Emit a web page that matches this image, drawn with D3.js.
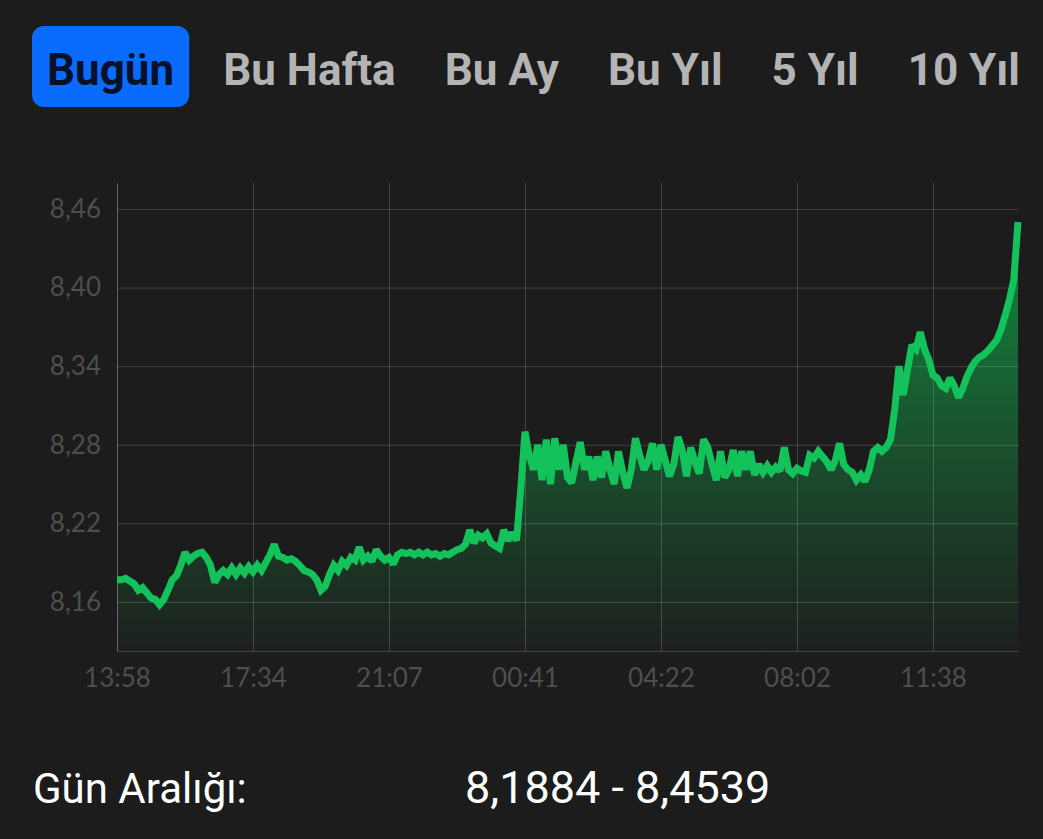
<!DOCTYPE html>
<html>
<head>
<meta charset="utf-8">
<script src="https://cdn.jsdelivr.net/npm/d3@7"></script>
<style>
  html, body { margin: 0; padding: 0; background: #1c1c1c; }
  #chart { width: 1043px; height: 839px; }
</style>
</head>
<body>
<div id="chart"></div>
<script>
// period tabs (first one is the active one)
const tabLabels = ["Bugün", "Bu Hafta", "Bu Ay", "Bu Yıl", "5 Yıl", "10 Yıl"];

// time labels on the x axis, one every 32 samples
const timeLabels = ["13:58", "17:34", "21:07", "00:41", "04:22", "08:02", "11:38"];
const timeTickIdx = [0, 32, 64, 96, 128, 160, 192];

// y axis ticks
const priceTicks = [8.16, 8.22, 8.28, 8.34, 8.40, 8.46];

// price samples (13:58 -> close)
const prices = [
  8.177, 8.177, 8.178, 8.176, 8.174, 8.169, 8.171, 8.167, 8.163, 8.162,
  8.158, 8.162, 8.169, 8.177, 8.180, 8.188, 8.198, 8.192, 8.195, 8.197,
  8.198, 8.194, 8.188, 8.175, 8.181, 8.184, 8.181, 8.186, 8.181, 8.186,
  8.182, 8.187, 8.183, 8.188, 8.184, 8.190, 8.196, 8.204, 8.195, 8.194,
  8.192, 8.193, 8.191, 8.188, 8.184, 8.183, 8.181, 8.177, 8.169, 8.172,
  8.181, 8.188, 8.184, 8.191, 8.188, 8.194, 8.192, 8.202, 8.192, 8.195,
  8.191, 8.200, 8.195, 8.192, 8.194, 8.189, 8.196, 8.198, 8.197, 8.198,
  8.196, 8.198, 8.196, 8.198, 8.196, 8.197, 8.195, 8.197, 8.196, 8.198,
  8.200, 8.201, 8.204, 8.215, 8.205, 8.211, 8.209, 8.212, 8.205, 8.203,
  8.201, 8.215, 8.207, 8.213, 8.207, 8.246, 8.290, 8.272, 8.261, 8.280,
  8.253, 8.284, 8.250, 8.285, 8.261, 8.280, 8.255, 8.251, 8.267, 8.282,
  8.261, 8.271, 8.253, 8.271, 8.255, 8.275, 8.261, 8.250, 8.275, 8.259,
  8.247, 8.261, 8.285, 8.272, 8.261, 8.268, 8.281, 8.261, 8.280, 8.268,
  8.256, 8.265, 8.286, 8.276, 8.256, 8.278, 8.267, 8.258, 8.284, 8.278,
  8.265, 8.253, 8.275, 8.255, 8.261, 8.276, 8.256, 8.275, 8.261, 8.275,
  8.257, 8.265, 8.259, 8.264, 8.259, 8.263, 8.260, 8.278, 8.261, 8.258,
  8.262, 8.260, 8.259, 8.272, 8.270, 8.275, 8.271, 8.267, 8.261, 8.268,
  8.281, 8.265, 8.261, 8.259, 8.253, 8.257, 8.252, 8.261, 8.275, 8.278,
  8.275, 8.278, 8.284, 8.307, 8.340, 8.318, 8.337, 8.356, 8.353, 8.366,
  8.353, 8.345, 8.333, 8.331, 8.325, 8.323, 8.331, 8.325, 8.316, 8.323,
  8.332, 8.339, 8.344, 8.347, 8.349, 8.352, 8.356, 8.360, 8.368, 8.379,
  8.391, 8.406, 8.450
];

const rangeLabel = "Gün Aralığı:";
const rangeValue = "8,1884 - 8,4539";

const W = 1043, H = 839;
const plot = { left: 117, right: 1019, top: 183, bottom: 651 };

const svg = d3.select('#chart').append('svg')
  .attr('width', W)
  .attr('height', H)
  .style('font-family', 'Roboto, sans-serif');

svg.append('rect').attr('width', W).attr('height', H).attr('fill', '#1c1c1c');

// ---- tabs ----
const tabY = 85;
const tabs = svg.append('g');
const tabTexts = tabs.selectAll('text')
  .data(tabLabels)
  .join('text')
    .attr('y', tabY)
    .attr('font-size', 44)
    .attr('font-weight', 700)
    .attr('fill', (d, i) => i === 0 ? '#07122a' : '#b4b4b4')
    .text(d => d);

const widths = [];
tabTexts.each(function() { widths.push(this.getComputedTextLength()); });
const startX = 47, endX = 1020;
const gap = (endX - startX - d3.sum(widths)) / (tabLabels.length - 1);
let cx = startX;
tabTexts.attr('x', (d, i) => { const x = cx; cx += widths[i] + gap; return x; });

tabs.insert('rect', 'text')
  .attr('x', startX - 15)
  .attr('y', 26)
  .attr('width', widths[0] + 30)
  .attr('height', 81)
  .attr('rx', 12)
  .attr('fill', '#0a6cff');

// ---- scales ----
const x = d3.scaleLinear().domain([0, prices.length - 1]).range([plot.left, plot.right - 1]);
const y = d3.scaleLinear().domain([8.1226, 8.4798]).range([plot.bottom, plot.top]);

const fmt = d3.formatLocale({ decimal: ",", thousands: ".", grouping: [3], currency: ["", "₺"] }).format(".2f");

// ---- area gradient ----
const defs = svg.append('defs');
const grad = defs.append('linearGradient')
  .attr('id', 'fillGrad')
  .attr('gradientUnits', 'userSpaceOnUse')
  .attr('x1', 0).attr('x2', 0)
  .attr('y1', y(8.46)).attr('y2', plot.bottom);
grad.append('stop').attr('offset', 0).attr('stop-color', '#118d40');
grad.append('stop').attr('offset', 0.55).attr('stop-color', '#1a4f2d');
grad.append('stop').attr('offset', 1).attr('stop-color', '#1d201e');

const area = d3.area()
  .x((d, i) => x(i))
  .y0(plot.bottom)
  .y1(d => y(d));

const line = d3.line()
  .x((d, i) => x(i))
  .y(d => y(d));

svg.append('path')
  .datum(prices)
  .attr('fill', 'url(#fillGrad)')
  .attr('d', area);

// ---- axes + grid ----
const gridColor = 'rgba(255,255,255,0.17)';
const labelFont = 'Lato, sans-serif';

const yAxis = svg.append('g')
  .attr('transform', `translate(${plot.left},0)`)
  .call(d3.axisLeft(y)
    .tickValues(priceTicks)
    .tickFormat(fmt)
    .tickSizeInner(-(plot.right - plot.left))
    .tickSizeOuter(0)
    .tickPadding(16));

const xAxis = svg.append('g')
  .attr('transform', `translate(0,${plot.bottom})`)
  .call(d3.axisBottom(x)
    .tickValues(timeTickIdx)
    .tickFormat((d, i) => timeLabels[i])
    .tickSizeInner(-(plot.bottom - plot.top))
    .tickSizeOuter(0)
    .tickPadding(18));

// stretch the bottom domain line to the right edge
xAxis.select('.domain').attr('d', `M${plot.left},0.5H${plot.right}`);

[yAxis, xAxis].forEach(g => {
  g.selectAll('.domain').attr('stroke', gridColor);
  g.selectAll('.tick line').attr('stroke', gridColor);
  g.selectAll('.tick text')
    .attr('fill', '#4e4e4e')
    .attr('font-family', labelFont)
    .attr('font-size', 26);
});

// ---- price line ----
svg.append('path')
  .datum(prices)
  .attr('fill', 'none')
  .attr('stroke', '#13c25a')
  .attr('stroke-width', 7)
  .attr('stroke-linejoin', 'miter')
  .attr('stroke-miterlimit', 2)
  .attr('d', line);

// ---- day range ----
svg.append('text')
  .attr('x', 33)
  .attr('y', 803)
  .attr('fill', '#ffffff')
  .attr('font-size', 42)
  .text(rangeLabel);

svg.append('text')
  .attr('x', 465)
  .attr('y', 803)
  .attr('fill', '#ffffff')
  .attr('font-size', 45)
  .text(rangeValue);
</script>
</body>
</html>
